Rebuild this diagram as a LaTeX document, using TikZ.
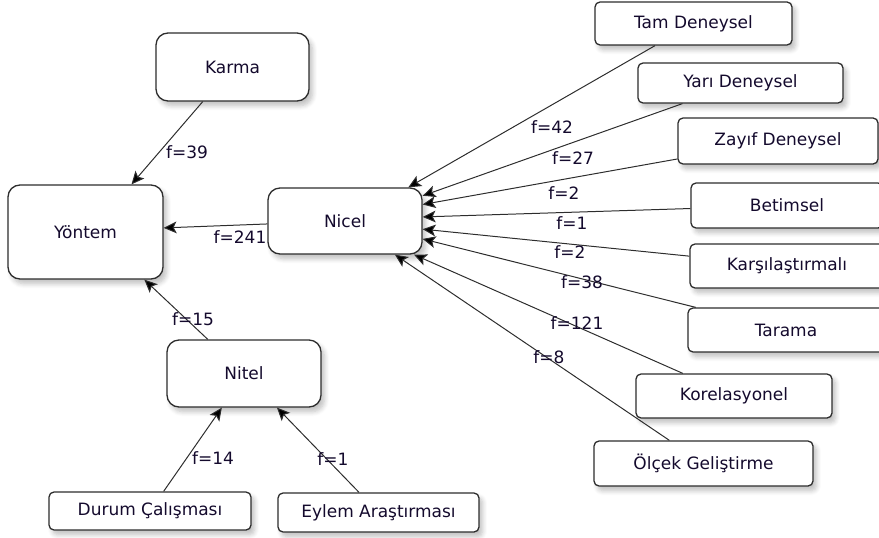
\documentclass[tikz,border=0pt]{standalone}
\usepackage{fontspec}
\setmainfont{DejaVu Sans}
\usepackage{tikz}
\usetikzlibrary{arrows.meta,shadows.blur}
\definecolor{txt}{RGB}{20,10,45}
\definecolor{edge}{RGB}{45,45,45}
\begin{document}
\begin{tikzpicture}[x = 0.03cm, y = -0.03cm, line width = 0.85pt,
                    base/.style = {draw = edge, line width = 1.1pt, fill = white, text = txt,
                                   font = \fontsize{14.5}{17}\selectfont, inner sep = 0pt,
                                   blur shadow = {shadow blur steps = 6, shadow xshift = 3pt,
                                                  shadow yshift = -4pt, shadow blur radius = 4pt,
                                                  shadow opacity = 25}},
                    big/.style = {base, rectangle, rounded corners = 0.36cm},
                    small/.style = {base, rectangle, rounded corners = 0.15cm},
                    arr/.style = {draw = edge, -{Stealth[length = 11pt, width = 10pt, inset = 2.5pt, fill = black]}},
                    lbl/.style = {text = txt, font = \fontsize{14.5}{17}\selectfont, inner sep = 0pt}]
  \useasboundingbox (0,0) rectangle (879,537);

  \node [big, minimum width = 4.59cm, minimum height = 2.04cm] (karma) at (232.5,67) {Karma};
  \node [big, minimum width = 4.65cm, minimum height = 2.82cm] (yontem) at (85.5,232) {Yöntem};
  \node [big, minimum width = 4.62cm, minimum height = 1.98cm] (nicel) at (345,221) {Nicel};
  \node [big, minimum width = 4.62cm, minimum height = 2.01cm] (nitel) at (244,373.5) {Nitel};
  \node [small, minimum width = 6.06cm, minimum height = 1.14cm] (durum) at (150,511) {Durum Çalışması};
  \node [small, minimum width = 6.03cm, minimum height = 1.17cm] (eylem) at (378.5,512.5) {Eylem Araştırması};

  \node [small, minimum width = 5.91cm, minimum height = 1.29cm] (tam) at (693.5,23.5) {Tam Deneysel};
  \node [small, minimum width = 6.15cm, minimum height = 1.20cm] (yari) at (740.5,83) {Yarı Deneysel};
  \node [small, minimum width = 6.00cm, minimum height = 1.38cm] (zayif) at (778,141) {Zayıf Deneysel};
  \node [small, minimum width = 5.76cm, minimum height = 1.35cm] (betim) at (787,205.5) {Betimsel};
  \node [small, minimum width = 5.82cm, minimum height = 1.32cm] (karsi) at (787,266) {Karşılaştırmalı};
  \node [small, minimum width = 5.88cm, minimum height = 1.32cm] (tarama) at (786,330) {Tarama};
  \node [small, minimum width = 5.88cm, minimum height = 1.32cm] (korel) at (734,396) {Korelasyonel};
  \node [small, minimum width = 6.57cm, minimum height = 1.35cm] (olcek) at (703.5,463.5) {Ölçek Geliştirme};

  \draw [arr] (karma) -- (yontem.46);
  \draw [arr] (nicel) -- (yontem.3);
  \draw [arr] (nitel) -- (yontem.-39);
  \draw [arr] (durum) -- (nitel.237);
  \draw [arr] (eylem) -- (nitel.-46);

  \draw [arr] (tam) -- (nicel.28);
  \draw [arr] (yari) -- (nicel.18);
  \draw [arr] (zayif) -- (nicel.12);
  \draw [arr] (betim) -- (nicel.3);
  \draw [arr] (karsi) -- (nicel.-6);
  \draw [arr] (tarama) -- (nicel.-13);
  \draw [arr] (korel) -- (nicel.-26);
  \draw [arr] (olcek) -- (nicel.-34);

  \node [lbl] (f39) at (187,152) {f=39};
  \node [lbl] (f241) at (240,237) {f=241};
  \node [lbl] (f15) at (193,319) {f=15};
  \node [lbl] (f14) at (213,458) {f=14};
  \node [lbl] (f1b) at (333,459) {f=1};
  \node [lbl] (f42) at (552,127) {f=42};
  \node [lbl] (f27) at (573,158) {f=27};
  \node [lbl] (f2a) at (564,193) {f=2};
  \node [lbl] (f1a) at (572,223) {f=1};
  \node [lbl] (f2b) at (570,252) {f=2};
  \node [lbl] (f38) at (582,282) {f=38};
  \node [lbl] (f121) at (577,323) {f=121};
  \node [lbl] (f8) at (549,357) {f=8};
\end{tikzpicture}
\end{document}
